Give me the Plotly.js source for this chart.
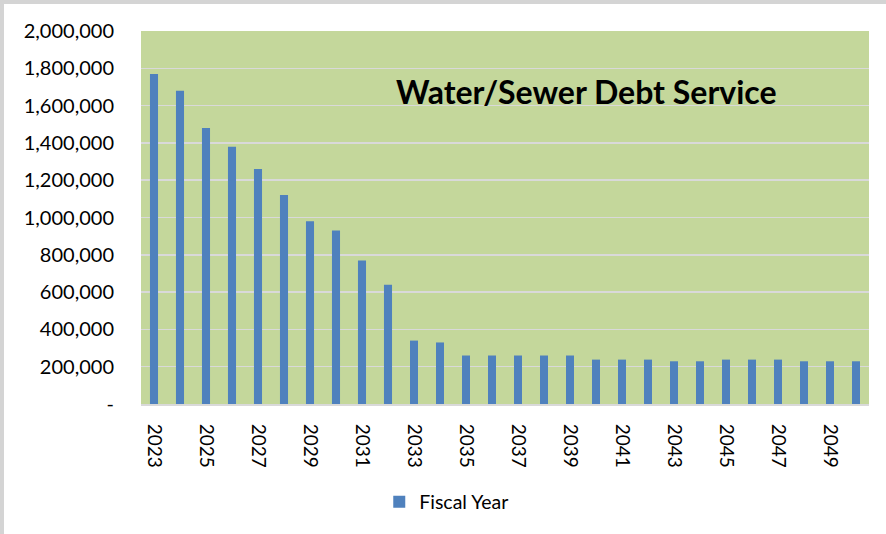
<!DOCTYPE html>
<html>
<head>
<meta charset="utf-8">
<script src="https://cdn.plot.ly/plotly-3.0.1.min.js"></script>
<style>
html,body{margin:0;padding:0;background:#fff;}
#wrap{position:relative;width:886px;height:534px;overflow:hidden;}
#chart{position:absolute;left:0;top:0;width:886px;height:534px;}
#frame{position:absolute;left:0;top:0;width:886px;height:534px;box-sizing:border-box;border-top:4px solid #d4d4d4;border-left:4px solid #d4d4d4;pointer-events:none;}
</style>
</head>
<body>
<div id="wrap"><div id="chart"></div><div id="frame"></div></div>
<script>
const years = [2023,2024,2025,2026,2027,2028,2029,2030,2031,2032,2033,2034,2035,2036,2037,2038,2039,2040,2041,2042,2043,2044,2045,2046,2047,2048,2049,2050];
const debtService = [1770000,1680000,1480000,1380000,1260000,1120000,980000,930000,770000,640000,340000,330000,260000,260000,260000,260000,260000,238000,238000,238000,229000,229000,238000,238000,238000,229000,229000,229000];
const xTickYears = [2023,2025,2027,2029,2031,2033,2035,2037,2039,2041,2043,2045,2047,2049];
const yTickVals = [0,200000,400000,600000,800000,1000000,1200000,1400000,1600000,1800000,2000000];
const yTickText = ['-','200,000','400,000','600,000','800,000','1,000,000','1,200,000','1,400,000','1,600,000','1,800,000','2,000,000'];
const seriesName = 'Fiscal Year';
const chartTitle = 'Water/Sewer Debt Service';

const font = 'Lato, "Open Sans", sans-serif';

Plotly.newPlot('chart', [{
  type: 'bar',
  x: years,
  y: debtService,
  name: seriesName,
  marker: {color: '#4f81bd'},
  showlegend: true
}], {
  width: 886, height: 534,
  margin: {l: 141, r: 17, t: 31, b: 130, pad: 0},
  paper_bgcolor: '#ffffff',
  plot_bgcolor: '#c4d79b',
  bargap: 0.69,
  font: {family: font, size: 19, color: '#000'},
  xaxis: {
    range: [2022.5, 2050.5],
    tickmode: 'array',
    tickvals: xTickYears,
    ticktext: xTickYears.map(String),
    tickangle: 90,
    ticks: '',
    ticklabelstandoff: 14,
    showgrid: false,
    zeroline: false,
    showline: true,
    linecolor: '#d9d9d9',
    linewidth: 2,
    tickfont: {family: font, size: 19, color: '#000'}
  },
  yaxis: {
    range: [0, 2000000],
    tickmode: 'array',
    tickvals: yTickVals,
    ticktext: yTickText,
    ticks: '',
    ticklabelstandoff: 26,
    showgrid: true,
    gridcolor: '#d9d9d9',
    gridwidth: 1.5,
    zeroline: false,
    showline: false,
    tickfont: {family: font, size: 20, color: '#000'}
  },
  showlegend: true,
  legend: {
    orientation: 'h',
    x: 0.42, xanchor: 'center',
    y: -0.263, yanchor: 'middle',
    font: {family: font, size: 19.5, color: '#000'},
    bgcolor: 'rgba(0,0,0,0)'
  },
  annotations: [{
    text: '<b>' + chartTitle + '</b>',
    xref: 'paper', yref: 'paper',
    x: 0.6115, y: 0.838,
    xanchor: 'center', yanchor: 'middle',
    showarrow: false,
    font: {family: font, size: 32, color: '#000'}
  }]
}, {displayModeBar: false, staticPlot: true});
</script>
</body>
</html>
